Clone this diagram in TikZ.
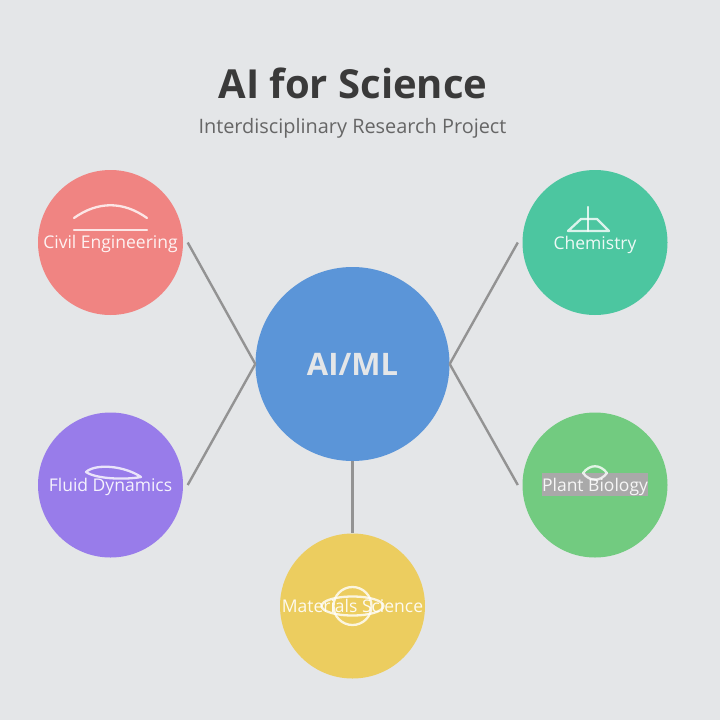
\documentclass[tikz,border=0pt]{standalone}
\usepackage{fontspec}
\setmainfont{Open Sans}
\usetikzlibrary{positioning,calc}
\definecolor{pagebg}{HTML}{E4E6E8}
\definecolor{titlegray}{HTML}{3A3A3A}
\definecolor{subgray}{HTML}{666666}
\definecolor{linkgray}{HTML}{939393}
\definecolor{mainblue}{HTML}{5B95D8}
\definecolor{civilred}{HTML}{F08482}
\definecolor{chemgreen}{HTML}{4CC6A0}
\definecolor{fluidpurple}{HTML}{987CEA}
\definecolor{plantgreen}{HTML}{72CB80}
\definecolor{matyellow}{HTML}{ECCD5F}
\definecolor{labelbg}{HTML}{A9A9A9}

\begin{document}
\begin{tikzpicture}[
    x=1pt, y=-1pt,
    domain/.style={circle, fill=#1, minimum size=145pt, inner sep=0pt},
    link/.style={draw=linkgray, line width=2.4pt},
    icon/.style={draw=white, opacity=0.8, line width=2.3pt, line cap=round, line join=round},
    domainlabel/.style={text=white, text opacity=0.9, font=\fontsize{17.5}{20}\selectfont, inner sep=0pt},
]
    \useasboundingbox (0,0) rectangle (720,720);
    \fill[pagebg] (0,0) rectangle (720,720);

    \node[text=titlegray, font=\fontsize{40}{46}\selectfont\bfseries] (title) at (353,83) {AI for Science};
    \node[text=subgray, font=\fontsize{19.9}{24}\selectfont] (subtitle) at (352.5,128.5) {Interdisciplinary Research Project};

    \node[circle, fill=mainblue, minimum size=194pt, inner sep=0pt, text=pagebg, font=\fontsize{31}{36}\selectfont\bfseries] (main) at (352.5,364) {AI/ML};
    \node[domain=civilred] (civil) at (110.5,242.5) {};
    \node[domain=chemgreen] (chem) at (595,242.5) {};
    \node[domain=fluidpurple] (fluid) at (110.5,485) {};
    \node[domain=plantgreen] (plant) at (595,485) {};
    \node[domain=matyellow] (mat) at (352.5,606) {};

    \coordinate (civilend) at ($(civil.east)+(4.5,0)$);
    \coordinate (fluidend) at ($(fluid.east)+(4.5,0)$);
    \coordinate (chemend) at ($(chem.west)+(-4.5,0)$);
    \coordinate (plantend) at ($(plant.west)+(-4.5,0)$);
    \foreach \a/\b in {civilend/main.west, fluidend/main.west, chemend/main.east, plantend/main.east} {
        \draw[link] (\a) -- (\b);
    }
    \draw[link] (main.south) -- (mat.north);

    \node[fill=labelbg, minimum width=106pt, minimum height=23pt, inner sep=0pt] (plantback) at (595,484.5) {};

    % icons
    \draw[icon] (74,218) .. controls (98,201) and (123,201) .. (147,218);
    \draw[icon] (74,230) -- (147,230);

    \draw[icon] (588,207) -- (588,231);
    \draw[icon] (568,231) -- (581,219) -- (597,219) -- (609,231) -- cycle;

    \draw[icon] (86,472) .. controls (96,463) and (125,466) .. (141,477) .. controls (125,480) and (96,479) .. (86,472) -- cycle;

    \draw[icon] (583,473) .. controls (590,464) and (600,464) .. (607,473) .. controls (600,482) and (590,482) .. (583,473) -- cycle;

    \draw[icon] (352.5,606) circle[radius=19pt];
    \draw[icon] (352.5,606) ellipse[x radius=31pt, y radius=9.5pt];

    % labels
    \node[domainlabel] (civillabel) at (110.5,244) {Civil Engineering};
    \node[domainlabel] (chemlabel) at (595,244.5) {Chemistry};
    \node[domainlabel] (fluidlabel) at (110.5,486.5) {Fluid Dynamics};
    \node[domainlabel] (plantlabel) at (595,486.5) {Plant Biology};
    \node[domainlabel] (matlabel) at (352.5,606) {Materials Science};
\end{tikzpicture}
\end{document}
